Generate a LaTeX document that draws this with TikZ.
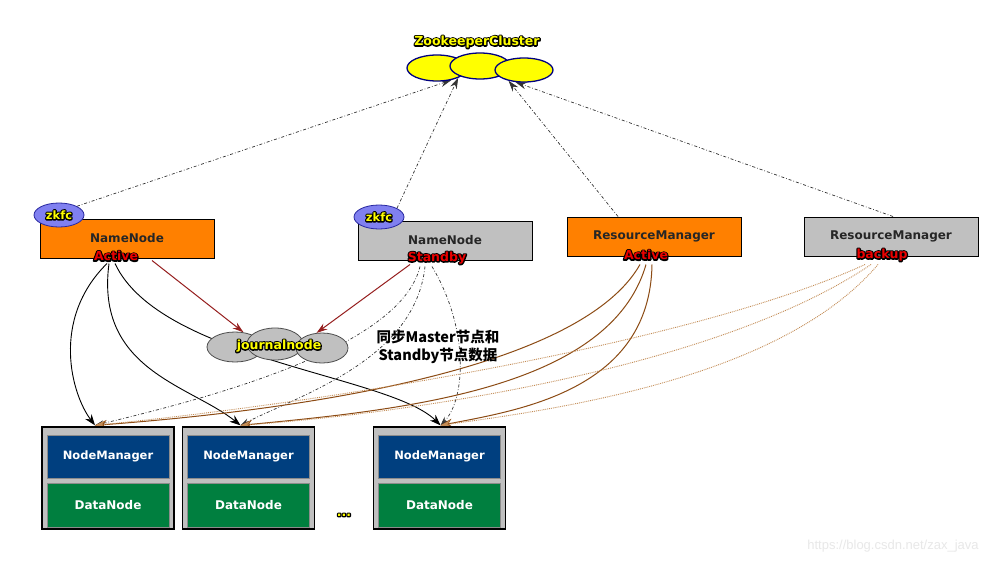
\documentclass[tikz,border=0pt]{standalone}
\usepackage{fontspec}
\setmainfont{DejaVu Sans}
\newfontfamily\cjk{Noto Sans CJK SC}
\newfontfamily\wmfont{Liberation Sans}
\usetikzlibrary{arrows.meta,shapes.geometric,calc}
\definecolor{orng}{RGB}{255,128,0}
\definecolor{gbox}{RGB}{192,192,192}
\definecolor{zkfcfill}{RGB}{128,128,240}
\definecolor{zkfcline}{RGB}{40,40,160}
\definecolor{ylw}{RGB}{255,255,0}
\definecolor{navyline}{RGB}{0,0,128}
\definecolor{nmblue}{RGB}{0,63,127}
\definecolor{dngreen}{RGB}{0,127,63}
\definecolor{darkred}{RGB}{150,30,30}
\definecolor{brn}{RGB}{140,75,20}
\definecolor{lbrn}{RGB}{195,140,85}
\definecolor{lnline}{RGB}{51,51,51}
\definecolor{lblred}{RGB}{235,0,0}
% outlined text: a black stroked copy under the coloured text
\newcommand\outl[2]{\rlap{\textcolor{black}{\special{pdf:literal direct 2 Tr 0 0 0 RG 2.6 w 1 j}#2\special{pdf:literal direct 0 Tr}}}\textcolor{#1}{#2}}
\newcommand\yeltext[1]{\outl{ylw}{#1}}
\newcommand\redtext[1]{\outl{lblred}{#1}}
\pgfdeclarelayer{bg}
\pgfsetlayers{bg,main}
\tikzset{
  bfont/.style={font=\bfseries\fontsize{12.5}{14}\selectfont},
  master/.style={draw=black, line width=1pt, minimum width=174pt, minimum height=39pt, inner sep=0pt, text=black!85, font=\bfseries\fontsize{12}{14}\selectfont},
  zkfcell/.style={ellipse, draw=zkfcline, fill=zkfcfill, line width=0.8pt, minimum width=50pt, minimum height=24pt, inner sep=0pt, font=\bfseries\fontsize{11.5}{13}\selectfont},
  zkell/.style={ellipse, draw=navyline, fill=ylw, line width=1.3pt, minimum width=60pt, minimum height=26pt, inner sep=0pt},
  jnell/.style={ellipse, draw=black!70, fill=gbox, line width=0.8pt, minimum width=56pt, minimum height=30pt, inner sep=0pt},
  frame/.style={draw=black, fill=gbox, line width=1.3pt, minimum width=132pt, minimum height=102pt, inner sep=0pt},
  nmbox/.style={draw=black!45, line width=0.8pt, fill=nmblue, minimum width=122pt, minimum height=43pt, inner sep=0pt, text=white, font=\bfseries\fontsize{11.5}{13}\selectfont},
  dnbox/.style={draw=black!45, line width=0.8pt, fill=dngreen, minimum width=122pt, minimum height=44pt, inner sep=0pt, text=white, font=\bfseries\fontsize{12}{14}\selectfont},
  lbl/.style={inner sep=0pt, bfont},
  zkarrow/.style={draw=lnline, line width=0.7pt, dash dot, -{Stealth[length=11pt,width=7pt]}},
  redarrow/.style={draw=darkred, line width=1pt, -{Stealth[length=11pt,width=7pt]}},
  blkarrow/.style={draw=black, line width=0.9pt, -{Stealth[length=11pt,width=8pt]}},
  sbarrow/.style={draw=lnline, line width=0.7pt, dash dot, -{Stealth[length=9pt,width=6pt]}},
  brnarrow/.style={draw=brn, line width=1pt, -{Stealth[length=12pt,width=9pt]}},
  dotarrow/.style={draw=lbrn, line width=0.9pt, densely dotted, -{Stealth[length=10pt,width=7pt]}},
}
\begin{document}
\begin{tikzpicture}[x=1pt,y=-1pt]
\path[use as bounding box] (0,0) rectangle (1008,565);

% Zookeeper cluster
\node[zkell] (z1) at (437,68) {};
\node[zkell] (z2) at (480,66) {};
\node[zkell, minimum width=58pt, minimum height=24pt] (z3) at (524,70) {};
\node[lbl] (zkt) at (477,42) {\yeltext{ZookeeperCluster}};

% masters
\node[master, fill=orng] (nn1) at (127,238.5) {\raisebox{2pt}{NameNode}};
\node[master, fill=gbox] (nn2) at (445,240.5) {\raisebox{2pt}{NameNode}};
\node[master, fill=orng] (rm1) at (654,236.5) {\raisebox{1pt}{ResourceManager}};
\node[master, fill=gbox] (rm2) at (891,236.5) {\raisebox{1pt}{ResourceManager}};

\node[lbl] (a1) at (116,256) {\redtext{Active}};
\node[lbl] (s2) at (437,258) {\redtext{Standby}};
\node[lbl] (a3) at (646,255) {\redtext{Active}};
\node[lbl] (b4) at (882,255) {\redtext{backup}};

\node[zkfcell] (k1) at (59,215) {\yeltext{zkfc}};
\node[zkfcell] (k2) at (379,217) {\yeltext{zkfc}};

% journal nodes
\node[jnell] (j1) at (235,347) {};
\node[jnell, minimum height=32pt] (j2) at (275,344) {};
\node[jnell, minimum width=52pt] (j3) at (322,348) {};
\node[lbl] (jt) at (279,346) {\yeltext{journalnode}};

\node[font=\cjk\bfseries\fontsize{14.5}{18}\selectfont, align=center, inner sep=0pt] (sync) at (438,347) {同步Master节点和\\Standby节点数据};

% workers
\foreach \i/\xx in {1/108,2/248.5,3/439.5}{
  \node[frame] (w\i) at (\xx,478) {};
  \node[nmbox] (nm\i) at (\xx,456.5) {NodeManager};
  \node[dnbox] (dn\i) at (\xx,505) {DataNode};
}
\node[lbl] (dots) at (344,515) {\yeltext{...}};

\node[text=black!9, font=\wmfont\fontsize{13}{15}\selectfont, inner sep=0pt] (wm) at (893,546) {https://blog.csdn.net/zax\_java};

\coordinate (e1) at ($(w1.north)+(-13,-1)$);
\coordinate (e2) at ($(w2.north)+(-8,-1)$);
\coordinate (e3) at ($(w3.north)+(1,-1)$);

\begin{pgfonlayer}{bg}
\fill[white] (0,0) rectangle (1008,565);
% to zookeeper
\draw[zkarrow] (k1.north east) -- (z1.-40);
\draw[zkarrow] (k2.north east) -- (z1.-25);
\draw[zkarrow] ($(rm1.north)+(-36,0)$) -- (z3.-145);
\draw[zkarrow] ($(rm2.north)+(2,0)$) -- (z3.-125);
% to journalnode
\draw[redarrow] ($(nn1.south)+(25,2)$) -- (j1.60);
\draw[redarrow] ($(nn2.south)+(-35,4)$) -- (j3.110);
% active namenode
\draw[blkarrow] ($(nn1.south)+(-20,5)$) .. controls (50,320) and (72,395) .. (e1);
\draw[blkarrow] ($(nn1.south)+(-18,5)$) .. controls (95,370) and (190,385) .. (e2);
\draw[blkarrow] ($(nn1.south)+(-12,5)$) .. controls (160,360) and (390,375) .. (e3);
% standby namenode
\draw[sbarrow] ($(nn2.south)+(-25,6)$) .. controls (400,350) and (200,400) .. (e1);
\draw[sbarrow] ($(nn2.south)+(-20,6)$) .. controls (415,360) and (300,395) .. (e2);
\draw[sbarrow] ($(nn2.south)+(-13,6)$) .. controls (470,330) and (465,400) .. (e3);
% active RM
\draw[brnarrow] ($(rm1.south)+(-14,8)$) .. controls (580,370) and (300,410) .. (e1);
\draw[brnarrow] ($(rm1.south)+(-8,8)$) .. controls (610,390) and (400,410) .. (e2);
\draw[brnarrow] ($(rm1.south)+(-2,8)$) .. controls (650,390) and (520,410) .. (e3);
% backup RM
\draw[dotarrow] ($(rm2.south)+(-26,8)$) .. controls (700,340) and (350,400) .. (e1);
\draw[dotarrow] ($(rm2.south)+(-20,8)$) .. controls (730,360) and (450,410) .. (e2);
\draw[dotarrow] ($(rm2.south)+(-13,8)$) .. controls (780,380) and (550,410) .. (e3);
\end{pgfonlayer}
\end{tikzpicture}
\end{document}
